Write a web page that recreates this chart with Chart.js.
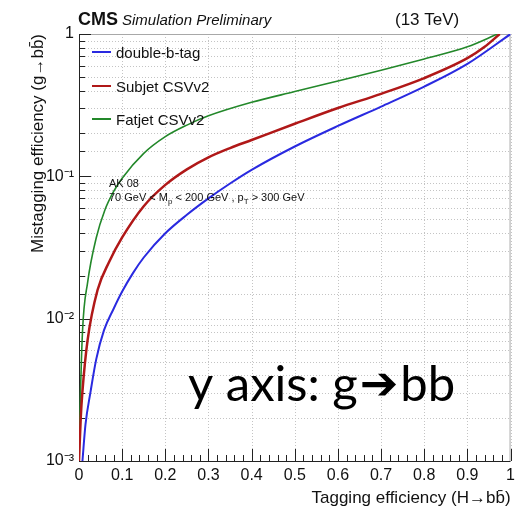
<!DOCTYPE html>
<html>
<head>
<meta charset="utf-8">
<script src="https://cdn.jsdelivr.net/npm/chart.js@4"></script>
<style>
  html, body { margin: 0; padding: 0; background: #fff; }
</style>
</head>
<body>
<canvas id="myChart" width="520" height="509"></canvas>
<script>
// ROC curves: H->bb tagging efficiency vs g->bb mistag rate
const seriesNames = ['double-b-tag', 'Subjet CSVv2', 'Fatjet CSVv2'];

const doubleBEff = [0.008, 0.015, 0.027, 0.04, 0.058, 0.08, 0.1, 0.125, 0.15, 0.2, 0.25, 0.3, 0.35, 0.4, 0.5, 0.6, 0.7, 0.8, 0.9, 1.0];
const doubleBMis = [0.001, 0.0018, 0.0031, 0.0052, 0.0083, 0.0117, 0.0155, 0.0209, 0.0269, 0.0398, 0.0537, 0.070, 0.089, 0.111, 0.162, 0.226, 0.309, 0.427, 0.617, 1.0];

const subjetEff = [0.0, 0.004, 0.008, 0.02, 0.043, 0.07, 0.1, 0.15, 0.2, 0.25, 0.3, 0.35, 0.4, 0.5, 0.6, 0.7, 0.8, 0.9, 0.94, 0.975];
const subjetMis = [0.001, 0.002, 0.0031, 0.0071, 0.0159, 0.0251, 0.0372, 0.0617, 0.0871, 0.112, 0.136, 0.158, 0.18, 0.234, 0.302, 0.38, 0.49, 0.676, 0.813, 1.0];

const fatjetEff = [0.0, 0.002, 0.008, 0.02, 0.04, 0.06, 0.08, 0.1, 0.15, 0.2, 0.25, 0.3, 0.4, 0.5, 0.6, 0.7, 0.8, 0.9, 0.97];
const fatjetMis = [0.001, 0.002, 0.008, 0.018, 0.037, 0.058, 0.078, 0.097, 0.145, 0.19, 0.229, 0.266, 0.331, 0.394, 0.468, 0.556, 0.668, 0.813, 1.0];

const seriesColors = ['#2a2ae0', '#b01818', '#23882a'];
const seriesWidths = [2, 2.5, 1.6];

const FONT = '"Liberation Sans", Arial, sans-serif';

function toPoints(xs, ys) {
    return xs.map((x, i) => ({x: x, y: ys[i]}));
}

const supDigits = {'-': '\u207B', '0': '\u2070', '1': '\u00B9', '2': '\u00B2', '3': '\u00B3'};
function powerLabel(v) {
    const e = Math.log10(v);
    const r = Math.round(e);
    if (Math.abs(e - r) > 1e-6) return '';
    if (r === 0) return '1';
    return '10' + String(r).split('').map(c => supDigits[c]).join('');
}

// ROOT-like frame, dotted grid, inward tick marks, legend and labels
const rootStyle = {
    id: 'rootStyle',
    beforeDatasetsDraw(chart) {
        const {ctx, chartArea: a, scales: {x, y}} = chart;
        ctx.save();
        ctx.lineWidth = 1;

        // dotted grid at every tick of both scales
        ctx.strokeStyle = '#c4c4c4';
        ctx.setLineDash([1, 2]);
        ctx.beginPath();
        x.ticks.forEach(t => {
            const px = Math.round(x.getPixelForValue(t.value)) + 0.5;
            ctx.moveTo(px, a.top);
            ctx.lineTo(px, a.bottom);
        });
        y.ticks.forEach(t => {
            const py = Math.round(y.getPixelForValue(t.value)) + 0.5;
            ctx.moveTo(a.left, py);
            ctx.lineTo(a.right, py);
        });
        ctx.stroke();
        ctx.setLineDash([]);

        ctx.strokeStyle = '#a8a8a8';
        ctx.beginPath();
        ctx.moveTo(a.left, a.top + 0.5);
        ctx.lineTo(a.right - 0.5, a.top + 0.5);
        ctx.lineTo(a.right - 0.5, a.bottom);
        ctx.stroke();

        ctx.strokeStyle = '#222';
        ctx.beginPath();
        ctx.moveTo(a.left + 0.5, a.top);
        ctx.lineTo(a.left + 0.5, a.bottom + 0.5);
        ctx.lineTo(a.right, a.bottom + 0.5);
        // x ticks: major every 0.1, minor every 0.02
        for (let i = 0; i <= 50; i++) {
            const px = Math.round(x.getPixelForValue(i / 50)) + 0.5;
            const len = i % 5 === 0 ? 12 : 6;
            ctx.moveTo(px, a.bottom);
            ctx.lineTo(px, a.bottom - len);
        }
        // y ticks from the log scale's own tick list
        y.ticks.forEach(t => {
            const py = Math.round(y.getPixelForValue(t.value)) + 0.5;
            const len = powerLabel(t.value) ? 12 : 6;
            ctx.moveTo(a.left, py);
            ctx.lineTo(a.left + len, py);
        });
        ctx.stroke();
        ctx.restore();
    },
    afterDraw(chart) {
        const {ctx} = chart;
        ctx.save();
        ctx.fillStyle = '#111';
        ctx.textBaseline = 'alphabetic';

        // header
        ctx.font = 'bold 18px ' + FONT;
        ctx.fillText('CMS', 78, 25);
        ctx.font = 'italic 15px ' + FONT;
        ctx.fillText('Simulation Preliminary', 122, 25);
        ctx.font = '17px ' + FONT;
        ctx.fillText('(13 TeV)', 395, 25);

        // legend
        const legendY = [52, 86, 119];
        chart.data.datasets.forEach((ds, i) => {
            ctx.strokeStyle = ds.borderColor;
            ctx.lineWidth = 2;
            ctx.beginPath();
            ctx.moveTo(92, legendY[i]);
            ctx.lineTo(111, legendY[i]);
            ctx.stroke();
            ctx.font = '15px ' + FONT;
            ctx.fillText(ds.label, 116, legendY[i] + 5.5);
        });

        // selection text
        ctx.font = '11px ' + FONT;
        ctx.fillText('AK 08', 109, 187);
        const parts = [
            ['70 GeV < M', 0], ['p', 1], [' < 200 GeV , p', 0], ['T', 1], [' > 300 GeV', 0]
        ];
        let px = 109;
        parts.forEach(([s, sub]) => {
            ctx.font = (sub ? '8px ' : '11px ') + FONT;
            ctx.fillText(s, px, sub ? 204 : 201);
            px += ctx.measureText(s).width;
        });

        // note
        ctx.fillStyle = '#000';
        let nx = 188;
        ['y axis: g', '\u2794', 'bb'].forEach((s, i) => {
            ctx.font = i === 1 ? '46px "DejaVu Sans", sans-serif' : '49px Lato, "Open Sans", sans-serif';
            ctx.fillText(s, nx, i === 1 ? 399 : 401);
            nx += ctx.measureText(s).width + 2;
        });
        ctx.restore();
    }
};

const data = {
    datasets: [
        {label: seriesNames[0], data: toPoints(doubleBEff, doubleBMis)},
        {label: seriesNames[1], data: toPoints(subjetEff, subjetMis)},
        {label: seriesNames[2], data: toPoints(fatjetEff, fatjetMis)}
    ].map((ds, i) => Object.assign(ds, {
        borderColor: seriesColors[i],
        borderWidth: seriesWidths[i],
        pointRadius: 0,
        cubicInterpolationMode: 'monotone',
        fill: false
    }))
};

const config = {
    type: 'line',
    data,
    options: {
        responsive: false,
        animation: false,
        layout: {padding: {top: 34, right: 4, left: 0, bottom: 0}},
        plugins: {legend: {display: false}, tooltip: {enabled: false}},
        scales: {
            x: {
                type: 'linear',
                min: 0,
                max: 1,
                afterFit(scale) { scale.height = 48; },
                grid: {display: true, drawOnChartArea: false, drawTicks: false},
                border: {display: false},
                ticks: {
                    stepSize: 0.1,
                    padding: 5,
                    color: '#111',
                    font: {family: FONT, size: 16},
                    callback: v => String(+v.toFixed(1))
                },
                title: {
                    display: true,
                    text: 'Tagging efficiency (H\u2192bb\u0304)',
                    align: 'end',
                    color: '#111',
                    padding: {top: 0, bottom: 0},
                    font: {family: FONT, size: 17}
                }
            },
            y: {
                type: 'logarithmic',
                min: 0.001,
                max: 1,
                afterFit(scale) { scale.width = 79; },
                grid: {display: true, drawOnChartArea: false, drawTicks: false},
                border: {display: false},
                ticks: {
                    autoSkip: false,
                    padding: 5,
                    color: '#111',
                    font: {family: FONT, size: 16},
                    callback: v => powerLabel(v)
                },
                title: {
                    display: true,
                    text: 'Mistagging efficiency (g\u2192bb\u0304)',
                    align: 'end',
                    color: '#111',
                    padding: {top: 28, bottom: 0},
                    font: {family: FONT, size: 17}
                }
            }
        }
    },
    plugins: [rootStyle]
};

const myChart = new Chart(document.getElementById('myChart'), config);
</script>
</body>
</html>
